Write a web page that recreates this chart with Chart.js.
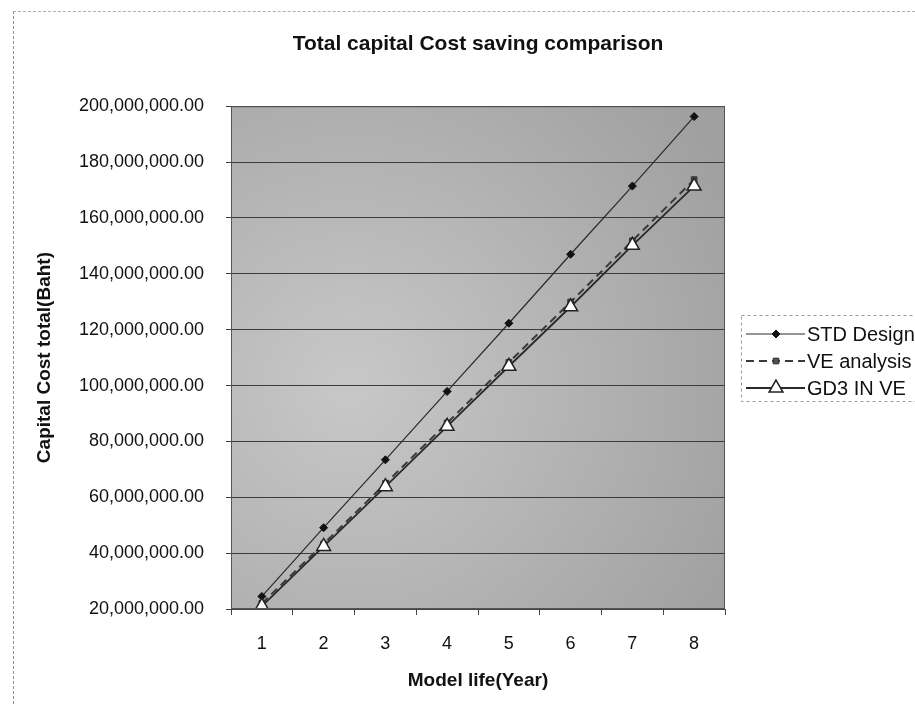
<!DOCTYPE html>
<html>
<head>
<meta charset="utf-8">
<title>Total capital Cost saving comparison</title>
<script src="https://cdn.jsdelivr.net/npm/chart.js@4/dist/chart.umd.min.js"></script>
<style>
  body { margin: 0; background: #fff; }
  #wrap { position: relative; width: 915px; height: 704px; }
  #frame { position: absolute; left: 13px; top: 11px; right: 0; bottom: 0;
           border-left: 1px dashed #8a8a8a; border-top: 1px dashed #b0b0b0; pointer-events: none; }
</style>
</head>
<body>
<div id="wrap">
  <canvas id="costChart"></canvas>
  <div id="frame"></div>
</div>
<script>
// chart data
const years = ['1', '2', '3', '4', '5', '6', '7', '8'];
const stdDesign = [24500000, 49100000, 73400000, 97900000, 122300000, 147000000, 171400000, 196300000];
const veAnalysis = [22000000, 43300000, 64900000, 86600000, 108300000, 129900000, 151800000, 173700000];
const gd3InVe = [21000000, 42400000, 63800000, 85400000, 106900000, 128200000, 150200000, 171400000];
const yMin = 20000000;
const yMax = 200000000;
const yStep = 20000000;

const FONT = "'Liberation Sans', Arial, sans-serif";

// grey, slightly uneven plot background like the photocopy
const plotBackground = {
    id: 'plotBackground',
    beforeDraw(chart) {
        const { ctx, chartArea: a } = chart;
        const g = ctx.createRadialGradient(a.left + 120, a.top + 280, 20, a.left + 120, a.top + 280, 430);
        g.addColorStop(0, '#c6c6c6');
        g.addColorStop(1, '#a0a0a0');
        ctx.save();
        ctx.fillStyle = g;
        ctx.fillRect(a.left, a.top, a.right - a.left, a.bottom - a.top);
        ctx.restore();
    },
    afterDatasetsDraw(chart) {
        const { ctx, chartArea: a } = chart;
        ctx.save();
        ctx.strokeStyle = '#555';
        ctx.lineWidth = 1;
        ctx.strokeRect(a.left + 0.5, a.top + 0.5, a.right - a.left - 1, a.bottom - a.top - 1);
        ctx.restore();
    }
};

// Excel-style legend: line sample with marker in the middle
const sideLegend = {
    id: 'sideLegend',
    afterDraw(chart) {
        const ctx = chart.ctx;
        const x0 = 741, y0 = 315, w = 180, h = 86;
        ctx.save();
        ctx.setLineDash([3, 3]);
        ctx.strokeStyle = '#9a9a9a';
        ctx.lineWidth = 1;
        ctx.strokeRect(x0 + 0.5, y0 + 0.5, w, h);
        const rows = [334, 361, 388];
        chart.data.datasets.forEach((ds, i) => {
            const y = rows[i];
            ctx.setLineDash(ds.borderDash || []);
            ctx.strokeStyle = ds.borderColor;
            ctx.lineWidth = ds.borderWidth;
            ctx.beginPath();
            ctx.moveTo(746, y);
            ctx.lineTo(805, y);
            ctx.stroke();
            ctx.setLineDash([]);
            ctx.fillStyle = ds.pointBackgroundColor;
            ctx.strokeStyle = ds.pointBorderColor;
            ctx.lineWidth = ds.pointBorderWidth;
            Chart.helpers.drawPoint(ctx, {
                pointStyle: ds.pointStyle,
                radius: ds.pointRadius,
                rotation: 0,
                borderWidth: ds.pointBorderWidth
            }, 776, y);
            ctx.fillStyle = '#111';
            ctx.font = '20px ' + FONT;
            ctx.textBaseline = 'middle';
            ctx.fillText(ds.label, 807, y + 1);
        });
        ctx.restore();
    }
};

new Chart(document.getElementById('costChart'), {
    type: 'line',
    data: {
        labels: years,
        datasets: [
            {
                label: 'STD Design',
                data: stdDesign,
                borderColor: '#2a2a2a',
                borderWidth: 1.2,
                pointStyle: 'rectRot',
                pointRadius: 4,
                pointBackgroundColor: '#111',
                pointBorderColor: '#111',
                pointBorderWidth: 1,
                order: 2
            },
            {
                label: 'VE analysis',
                data: veAnalysis,
                borderColor: '#3a3a3a',
                borderWidth: 2,
                borderDash: [8, 5],
                pointStyle: 'rect',
                pointRadius: 4,
                pointBackgroundColor: '#505050',
                pointBorderColor: '#333',
                pointBorderWidth: 1,
                order: 1
            },
            {
                label: 'GD3 IN VE',
                data: gd3InVe,
                borderColor: '#2a2a2a',
                borderWidth: 1.8,
                pointStyle: 'triangle',
                pointRadius: 8,
                pointBackgroundColor: '#ffffff',
                pointBorderColor: '#222',
                pointBorderWidth: 1.5,
                order: 0
            }
        ]
    },
    options: {
        responsive: true,
        maintainAspectRatio: false,
        animation: false,
        layout: { padding: { right: 190 } },
        plugins: {
            legend: { display: false },
            tooltip: { enabled: false },
            title: {
                display: true,
                fullSize: false,
                text: 'Total capital Cost saving comparison',
                color: '#111',
                font: { family: FONT, size: 21, weight: 'bold' },
                padding: { top: 32, bottom: 49 }
            }
        },
        scales: {
            x: {
                offset: true,
                grid: { offset: true, drawOnChartArea: false, drawTicks: true, tickLength: 6, color: '#444' },
                border: { display: true, color: '#444' },
                ticks: { color: '#111', padding: 18, font: { family: FONT, size: 18 } },
                title: {
                    display: true,
                    text: 'Model life(Year)',
                    color: '#111',
                    font: { family: FONT, size: 19, weight: 'bold' },
                    padding: { top: 0, bottom: 12 }
                },
                afterFit(scale) { scale.height = 95; }
            },
            y: {
                min: yMin,
                max: yMax,
                grid: { color: '#3c3c3c', lineWidth: 1, tickLength: 5, drawTicks: true },
                border: { display: true, color: '#444' },
                ticks: {
                    stepSize: yStep,
                    color: '#111',
                    padding: 22,
                    font: { family: FONT, size: 18 },
                    callback: v => v.toLocaleString('en-US', { minimumFractionDigits: 2, maximumFractionDigits: 2 })
                },
                title: {
                    display: true,
                    text: 'Capital Cost total(Baht)',
                    color: '#111',
                    font: { family: FONT, size: 19, weight: 'bold' },
                    padding: { top: 33, bottom: 0 }
                },
                afterFit(scale) { scale.width = 231; }
            }
        }
    },
    plugins: [plotBackground, sideLegend]
});
</script>
</body>
</html>
